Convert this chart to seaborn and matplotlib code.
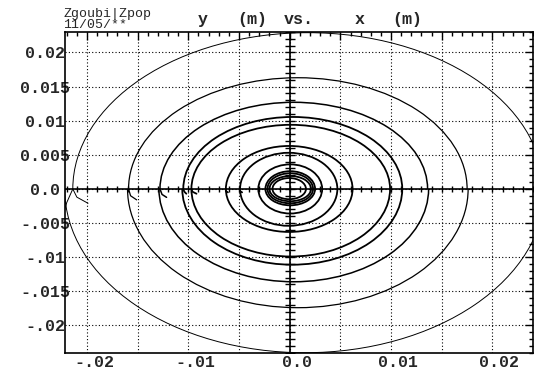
import numpy as np
import matplotlib
matplotlib.use("Agg")
import matplotlib.pyplot as plt
from matplotlib.patches import Arc
from matplotlib.transforms import ScaledTranslation
import seaborn as sns

# ---- data (metres) ----
upper_left = [-0.0214, -0.0159, -0.0128, -0.0105, -0.0097, -0.0063, -0.0049, -0.0031, -0.0024, -0.0022, -0.0020, -0.0017]
upper_right = [0.0250, 0.0175, 0.0136, 0.0111, 0.0099, 0.0062, 0.0047, 0.0032, 0.0025, 0.0023, 0.0021, 0.0016]
lower_left = [-0.0222, -0.0160, -0.0129, -0.0106, -0.0097, -0.0063, -0.0049, -0.0031, -0.0024, -0.0022, -0.0020, -0.0017]
lower_right = [0.0252, 0.0176, 0.0137, 0.0111, 0.0099, 0.0062, 0.0047, 0.0032, 0.0025, 0.0023, 0.0021, 0.0016]
orbit_top = [0.0229, 0.0163, 0.0127, 0.01055, 0.0094, 0.0063, 0.0053, 0.0036, 0.0026, 0.0023, 0.0019, 0.0016]
orbit_bottom = [-0.0240, -0.0174, -0.0136, -0.0111, -0.0099, -0.0063, -0.0054, -0.0036, -0.0024, -0.0021, -0.0018, -0.0015]
orbit_lw = [0.7, 0.9, 1.1, 1.3, 1.3, 1.3, 1.3, 1.3, 1.3, 1.3, 1.3, 1.3]

# kinks at the start of each turn: (x list, y list)
hook_x = [[-0.0214, -0.0210, -0.0199],
          [-0.0159, -0.0157, -0.0151],
          [-0.0128, -0.0126, -0.01215],
          [-0.0105, -0.0104, -0.0102],
          [-0.0097, -0.0096, -0.0092],
          [-0.0063, -0.0063, -0.0061],
          [-0.0049, -0.0049, -0.0047]]
hook_y = [[0.0, -0.0012, -0.0021],
          [0.0, -0.0010, -0.0016],
          [0.0, -0.0008, -0.00123],
          [0.0, -0.0004, -0.0007],
          [0.0, -0.0004, -0.0007],
          [0.0, -0.0003, -0.0005],
          [0.0, -0.0003, -0.0005]]
# branch leaving the outer kink towards the wider lower half
branch_x = [-0.0214, -0.0217, -0.0220, -0.0222]
branch_y = [0.0, -0.0010, -0.0020, -0.0030]

x_ticks = [-0.02, -0.015, -0.01, -0.005, 0.0, 0.005, 0.01, 0.015, 0.02]
x_labels = ["-.02", "", "-.01", "", "0.0", "", "0.01", "", "0.02"]
y_ticks = [0.02, 0.015, 0.01, 0.005, 0.0, -0.005, -0.01, -0.015, -0.02]
y_labels = ["0.02", "0.015", "0.01", "0.005", "0.0", "-.005", "-.01", "-.015", "-.02"]

sns.set_style("white")
plt.rcParams["font.family"] = ["Liberation Mono", "DejaVu Sans Mono"]

W, H = 534, 371
fig = plt.figure(figsize=(W / 100, H / 100), dpi=100)
ax = fig.add_axes([65 / W, 1 - 353 / H, (533 - 65) / W, (353 - 32) / H])
ax.set_xlim(-0.02217, 0.02394)
ax.set_ylim(-0.02404, 0.02282)

# grid
ax.set_xticks(x_ticks)
ax.set_xticklabels(x_labels)
ax.set_yticks(y_ticks)
ax.set_yticklabels(y_labels)
ax.set_xticks(np.round(np.arange(-0.022, 0.0245, 0.001), 4), minor=True)
ax.set_yticks(np.round(np.arange(-0.024, 0.0235, 0.001), 4), minor=True)
ax.grid(True, which="major", color="k", linestyle=(0, (1, 2)), linewidth=0.8)
ax.tick_params(which="both", direction="in", top=True, right=True, color="k")
ax.tick_params(which="major", length=6, width=1)
ax.tick_params(which="minor", length=3, width=1)
ax.tick_params(axis="y", which="major", pad=14.4, labelsize=12)
ax.tick_params(axis="x", which="major", pad=1.5, labelsize=12)
for lab in ax.get_yticklabels():
    lab.set_horizontalalignment("center")
    lab.set_fontweight("bold")
for lab in ax.get_xticklabels():
    lab.set_fontweight("bold")
    lab.set_transform(lab.get_transform() + ScaledTranslation(7 / 100, 0, fig.dpi_scale_trans))
for sp in ax.spines.values():
    sp.set_color("k")
    sp.set_linewidth(1.2)

# central axes with crosses
ax.axhline(0, color="k", lw=1.2, zorder=2)
ax.axvline(0, color="k", lw=1.2, zorder=2)
xm = np.round(np.arange(-0.022, 0.0245, 0.001), 4)
ym = np.round(np.arange(-0.024, 0.0235, 0.001), 4)
ax.plot(xm, np.zeros_like(xm), ls="none", marker="|", ms=5, mew=1, color="k", zorder=2)
ax.plot(np.zeros_like(ym), ym, ls="none", marker="_", ms=7, mew=1, color="k", zorder=2)

# orbits
for ul, ur, ll, lr, t, b, lw in zip(upper_left, upper_right, lower_left, lower_right,
                                    orbit_top, orbit_bottom, orbit_lw):
    ax.add_patch(Arc(((ul + ur) / 2, 0), ur - ul, 2 * t, theta1=0, theta2=180,
                     color="k", lw=lw, zorder=3))
    ax.add_patch(Arc(((ll + lr) / 2, 0), lr - ll, -2 * b, theta1=180, theta2=360,
                     color="k", lw=lw, zorder=3))

for i, (hx, hy) in enumerate(zip(hook_x, hook_y)):
    sns.lineplot(x=hx, y=hy, sort=False, estimator=None, color="k",
                 lw=orbit_lw[i], ax=ax, legend=False, zorder=3)
sns.lineplot(x=branch_x, y=branch_y, sort=False, estimator=None, color="k",
             lw=orbit_lw[0], ax=ax, legend=False, zorder=3)

ax.set_xlabel("")
ax.set_ylabel("")

# header texts
def px(x, y):
    return x / W, 1 - y / H

fig.text(*px(63, 17), "Zgoubi|Zpop", fontsize=9.5, va="baseline", ha="left")
fig.text(*px(63, 28), "11/05/**", fontsize=9.5, va="baseline", ha="left")
for xx, s in [(198, "y"), (237, "(m)"), (284, "vs."), (355, "x"), (392, "(m)")]:
    fig.text(*px(xx, 24), s, fontsize=12, fontweight="bold", va="baseline", ha="left")

fig.savefig("out.png", dpi=100)
